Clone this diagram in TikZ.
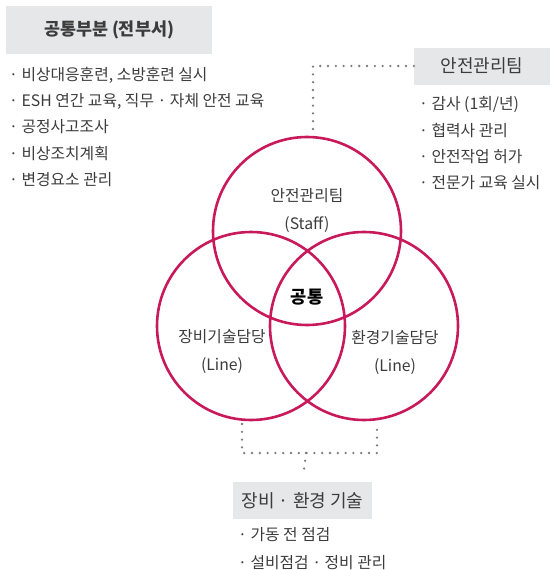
\documentclass[tikz,border=0pt]{standalone}
\usepackage{fontspec}
\setmainfont{Noto Sans CJK KR}
\usepackage{xcolor}
\usepackage{tikz}
\usetikzlibrary{positioning, calc}
\definecolor{vennred}{RGB}{200,25,90}
\definecolor{boxgray}{RGB}{230,231,233}
\definecolor{textgray}{RGB}{60,60,60}
\definecolor{dotgray}{RGB}{125,125,125}

\begin{document}
\begin{tikzpicture}[x=1pt, y=-1pt,
    every node/.style={font=\fontsize{15.8}{18}\selectfont, text=textgray, inner sep=0pt},
    titlebox/.style={fill=boxgray, minimum height=37pt, font=\fontsize{18}{20}\selectfont},
    item/.style={anchor=west},
    venn/.style={draw=vennred, line width=2.6pt},
    vennlabel/.style={align=center, font=\fontsize{15.8}{28}\selectfont},
    dotline/.style={draw=dotgray, line width=2.6pt, line cap=round, dash pattern=on 0pt off 7.8pt}]
    \useasboundingbox (0,0) rectangle (550,570);
    % common part
    \node[titlebox, minimum width=206pt, minimum height=48pt, font=\fontsize{17.4}{20}\selectfont\bfseries] (common) at (109,30) {공통부분 (전부서)};
    \node[item] (c1) at (9,75) {· 비상대응훈련, 소방훈련 실시};
    \node[item] (c2) at (9,101) {· ESH 연간 교육, 직무 · 자체 안전 교육};
    \node[item] (c3) at (9,127) {· 공정사고조사};
    \node[item] (c4) at (9,154) {· 비상조치계획};
    \node[item] (c5) at (9,180) {· 변경요소 관리};
    % safety team
    \node[titlebox, minimum width=136pt] (safety) at (482,66) {안전관리팀};
    \node[item] (s1) at (419,105) {· 감사 (1회/년)};
    \node[item] (s2) at (419,131) {· 협력사 관리};
    \node[item] (s3) at (419,157) {· 안전작업 허가};
    \node[item] (s4) at (419,183) {· 전문가 교육 실시};
    % equipment / environment
    \node[titlebox, minimum width=139pt] (tech) at (302.5,500.5) {장비 · 환경 기술};
    \node[item] (t1) at (238,535) {· 가동 전 점검};
    \node[item] (t2) at (238,563) {· 설비점검 · 정비 관리};
    % venn
    \draw[venn] (307,231) circle (94);
    \draw[venn] (251,326) circle (94);
    \draw[venn] (364,326) circle (94);
    \node[vennlabel] (staff) at (307,211) {안전관리팀\\(Staff)};
    \node[vennlabel] (linea) at (222,352) {장비기술담당\\(Line)};
    \node[vennlabel] (lineb) at (395,352) {환경기술담당\\(Line)};
    \node[font=\fontsize{17.6}{20}\selectfont\bfseries, text=black] (both) at (307,297) {공통};
    % dotted links
    \coordinate (safetytop) at (313,136);
    \coordinate (lineaend) at (242,424);
    \coordinate (linebend) at (377,423);
    \coordinate (join) at (306,453);
    \draw[dotline] (safety.west) -| (safetytop);
    \draw[dotline] (lineaend) |- (join) -| (linebend);
    \draw[dotline, shorten >=9pt] (join) -- (tech.north);
\end{tikzpicture}
\end{document}
